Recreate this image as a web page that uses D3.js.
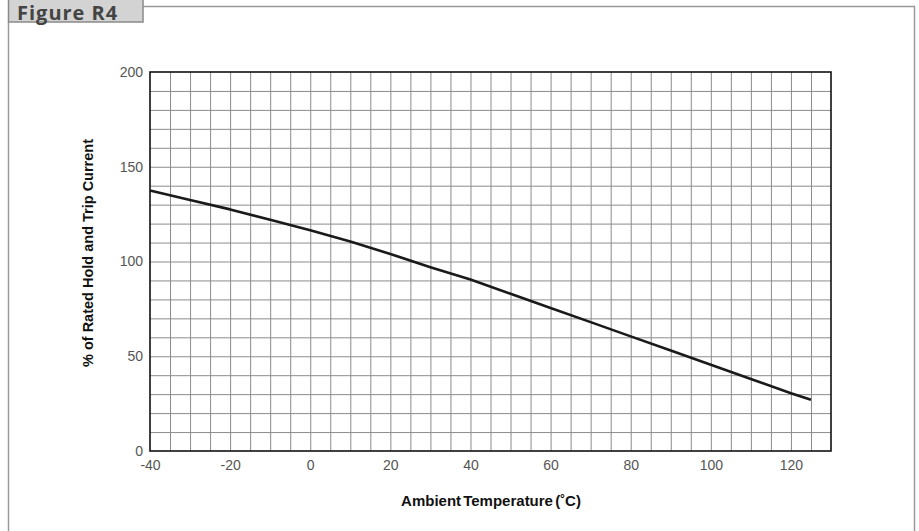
<!DOCTYPE html>
<html>
<head>
<meta charset="utf-8">
<script src="https://cdn.jsdelivr.net/npm/d3@7"></script>
<style>
  body { margin: 0; background: #fff; }
  svg { display: block; font-family: 'Liberation Sans', Arial, sans-serif; }
</style>
</head>
<body>
<div id="chart"></div>
<script>
// Derating curve
const temps = [-40, -30, -20, -10, 0, 10, 20, 30, 40, 50, 60, 70, 80, 90, 100, 110, 120, 125];
const ratedPct = [137.5, 132.5, 127.5, 122, 116.5, 110.5, 104, 97, 90.5, 83, 75.5, 68, 60.5, 53, 45.5, 38, 30.5, 27];
const xTicks = [-40, -20, 0, 20, 40, 60, 80, 100, 120];
const yTicks = [0, 50, 100, 150, 200];

const width = 919, height = 531;
const plot = { left: 150, top: 72, right: 831, bottom: 451 };

const svg = d3.select('#chart').append('svg')
    .attr('width', width).attr('height', height);

// Outer figure frame + label tab
const frame = svg.append('g').attr('fill', 'none').attr('stroke', '#9a9a9a').attr('stroke-width', 1.5);
frame.append('path').attr('d', `M8.5,22 V${height + 2}`);
frame.append('path').attr('d', `M143,6.5 H914.5 V${height + 2}`);
svg.append('rect').attr('x', 8.5).attr('y', -2).attr('width', 134.5).attr('height', 24)
    .attr('fill', '#d3d3d3').attr('stroke', '#8a8a8a').attr('stroke-width', 1.5);
svg.append('text').attr('x', 17).attr('y', 20)
    .attr('fill', '#444').style('font-size', '20px').style('font-weight', 'bold')
    .style('letter-spacing', '1px')
    .style('font-family', "'Open Sans', 'DejaVu Sans', sans-serif")
    .text('Figure R4');

const x = d3.scaleLinear().domain([-40, 130]).range([plot.left, plot.right]);
const y = d3.scaleLinear().domain([0, 200]).range([plot.bottom, plot.top]);

const g = svg.append('g');

// Grid: every 5 degC, every 10 %
g.append('g')
    .attr('transform', `translate(0,${plot.bottom})`)
    .call(d3.axisBottom(x).tickValues(d3.range(-35, 130, 5)).tickSize(-(plot.bottom - plot.top)).tickFormat(''))
    .call((sel) => sel.select('.domain').remove())
    .call((sel) => sel.selectAll('line').attr('stroke', '#8c8c8c').attr('stroke-width', 1));
g.append('g')
    .attr('transform', `translate(${plot.left},0)`)
    .call(d3.axisLeft(y).tickValues(d3.range(10, 200, 10)).tickSize(-(plot.right - plot.left)).tickFormat(''))
    .call((sel) => sel.select('.domain').remove())
    .call((sel) => sel.selectAll('line').attr('stroke', '#8c8c8c').attr('stroke-width', 1));

// Plot border
g.append('rect')
    .attr('x', plot.left).attr('y', plot.top)
    .attr('width', plot.right - plot.left).attr('height', plot.bottom - plot.top)
    .attr('fill', 'none').attr('stroke', '#111').attr('stroke-width', 1.6);

// Tick labels (plain hyphen minus, as in the figure)
g.append('g')
    .attr('transform', `translate(0,${plot.bottom})`)
    .call(d3.axisBottom(x).tickValues(xTicks).tickSize(0).tickPadding(9).tickFormat((d) => String(d)))
    .call((sel) => sel.select('.domain').remove())
    .call((sel) => sel.selectAll('text').attr('fill', '#555').style('font-size', '14px'));
g.append('g')
    .attr('transform', `translate(${plot.left},0)`)
    .call(d3.axisLeft(y).tickValues(yTicks).tickSize(0).tickPadding(7).tickFormat((d) => String(d)))
    .call((sel) => sel.select('.domain').remove())
    .call((sel) => sel.selectAll('text').attr('fill', '#555').style('font-size', '14px'));

// Curve
const line = d3.line().x((d, i) => x(temps[i])).y((d) => y(d));
g.append('path')
    .attr('d', line(ratedPct))
    .attr('fill', 'none').attr('stroke', '#1a1a1a').attr('stroke-width', 2.6)
    .attr('stroke-linejoin', 'round');

// Axis titles
svg.append('text')
    .attr('x', 491).attr('y', 506)
    .attr('text-anchor', 'middle')
    .attr('fill', '#111').style('font-size', '15px').style('font-weight', 'bold')
    .style('word-spacing', '-2px')
    .text('Ambient Temperature (˚C)');
svg.append('text')
    .attr('transform', 'translate(93,253) rotate(-90)')
    .attr('text-anchor', 'middle')
    .attr('fill', '#111').style('font-size', '14.5px').style('font-weight', 'bold')
    .text('% of Rated Hold and Trip Current');
</script>
</body>
</html>
